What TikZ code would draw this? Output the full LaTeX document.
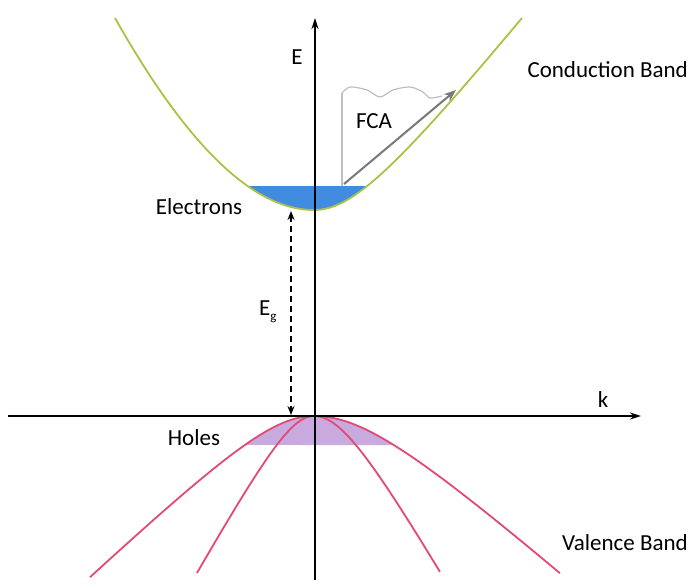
\documentclass[tikz,border=0pt]{standalone}
\usepackage{fontspec}
\setmainfont{Carlito}
\usetikzlibrary{arrows.meta}
\definecolor{cbgreen}{RGB}{170,195,70}
\definecolor{elblue}{RGB}{65,140,225}
\definecolor{vbpink}{RGB}{225,75,115}
\definecolor{holepurple}{RGB}{200,170,222}
\definecolor{fcagray}{RGB}{120,120,120}
\definecolor{fcalight}{RGB}{190,190,190}
\tikzset{
  axis/.style={line width=1.7pt, -{Stealth[length=11pt,width=7pt]}},
  cband/.style={cbgreen, line width=1.8pt},
  vband/.style={vbpink, line width=1.8pt},
  lbl/.style={font=\fontsize{23}{26}\selectfont, inner sep=0pt},
  gaparrow/.style={line width=1.8pt, dash pattern=on 6pt off 4pt, {Stealth[length=9pt,width=7pt]}-{Stealth[length=9pt,width=7pt]}},
}
\begin{document}
\begin{tikzpicture}[x=1pt,y=-1pt]
\useasboundingbox (0,0) rectangle (689,587);
\fill[white] (0,0) rectangle (689,587);
% electron filling
\fill[elblue] plot[domain=-0.664:0, samples=30] ({314+100*\x},{210-58*\x*\x/(1-0.0987*\x)})
  -- plot[domain=0:0.53, samples=30] ({314+100*\x},{210-125*(sqrt(\x*\x+0.4096)-0.64)}) -- cycle;
% hole filling
\fill[holepurple] plot[domain=-0.69:0, samples=30] ({314+100*\x},{416+95*(sqrt(\x*\x+0.3969)-0.63)})
  -- plot[domain=0:0.80, samples=30] ({314+100*\x},{416+88*(sqrt(\x*\x+0.64)-0.8)}) -- cycle;
% conduction band
\draw[cband] plot[domain=-1.99:0, samples=80] ({314+100*\x},{210-58*\x*\x/(1-0.0987*\x)})
  -- plot[domain=0:2.08, samples=80] ({314+100*\x},{210-125*(sqrt(\x*\x+0.4096)-0.64)});
% valence bands (heavy and light holes)
\draw[vband] plot[domain=-2.24:0, samples=80] ({314+100*\x},{416+95*(sqrt(\x*\x+0.3969)-0.63)})
  -- plot[domain=0:2.46, samples=80] ({314+100*\x},{416+88*(sqrt(\x*\x+0.64)-0.8)});
\draw[vband] plot[domain=-1.17:0, samples=60] ({314+100*\x},{416+180*(sqrt(\x*\x+0.1218)-0.349)})
  -- plot[domain=0:1.26, samples=60] ({314+100*\x},{416+175*(sqrt(\x*\x+0.198)-0.445)});
% axes
\coordinate (ebot) at (315,580);
\coordinate (etop) at (315,18);
\coordinate (kleft) at (8,416);
\coordinate (kright) at (641,416);
\draw[axis] (ebot) -- (etop);
\draw[axis] (kleft) -- (kright);
% band gap arrow
\coordinate (gtop) at (291,211);
\coordinate (gbot) at (291,415);
\draw[gaparrow] (gtop) -- (gbot);
% FCA
\coordinate (fbase) at (342,186);
\coordinate (fup) at (342,93);
\coordinate (fend) at (456,90);
\draw[fcalight, line width=1.6pt] (fbase) -- (fup);
\draw[fcalight, line width=1.2pt] plot[smooth] coordinates {(342,93) (350,87) (367,90) (380,97) (393,90) (410,87) (423,92) (430,98) (442,96)};
\draw[fcagray, line width=2pt, -{Stealth[length=12pt,width=9pt,fill=fcalight]}] (344,184) -- (fend);
% labels
\node[lbl] (lE) at (297,57) {E};
\node[lbl] (lk) at (603,400) {k};
\node[lbl, anchor=east] (lcb) at (688,70) {Conduction Band};
\node[lbl] (lfca) at (374,121) {FCA};
\node[lbl] (lel) at (199,207) {Electrons};
\node[lbl, anchor=west] (leg) at (259,312) {E\raisebox{-5pt}{\fontsize{13}{14}\selectfont g}};
\node[lbl] (lh) at (194,438) {Holes};
\node[lbl, anchor=east] (lvb) at (688,543) {Valence Band};
\end{tikzpicture}
\end{document}
